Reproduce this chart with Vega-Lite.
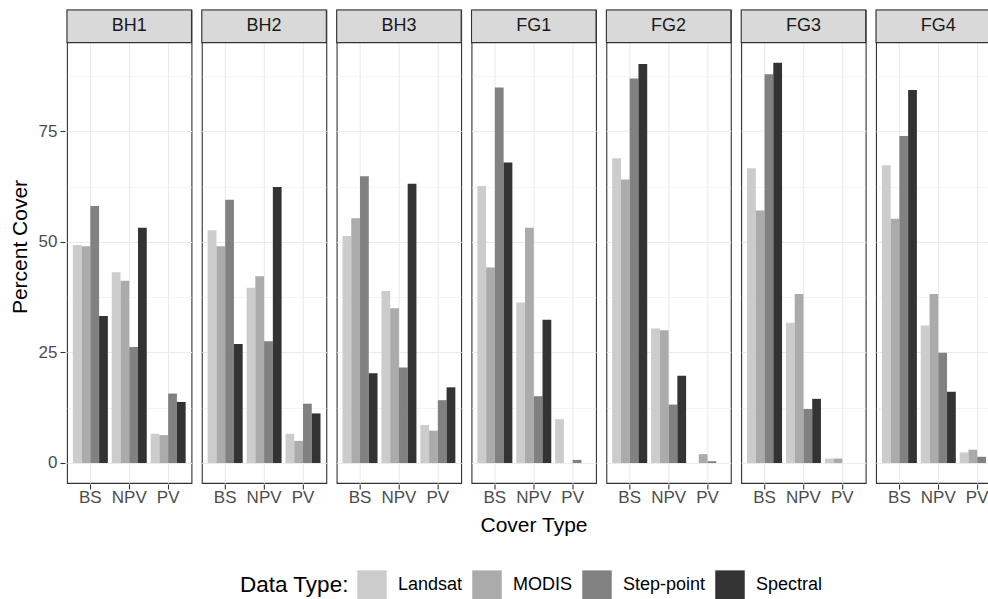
{
  "$schema": "https://vega.github.io/schema/vega-lite/v6.json",
  "padding": {"left": 9, "top": 8, "right": 0, "bottom": 0},
  "background": "white",
  "data": {"values": [
    {"Site": "BH1", "Cover": "BS", "Type": "Landsat", "Percent": 49.3},
    {"Site": "BH1", "Cover": "BS", "Type": "MODIS", "Percent": 49.0},
    {"Site": "BH1", "Cover": "BS", "Type": "Step-point", "Percent": 58.1},
    {"Site": "BH1", "Cover": "BS", "Type": "Spectral", "Percent": 33.2},
    {"Site": "BH1", "Cover": "NPV", "Type": "Landsat", "Percent": 43.1},
    {"Site": "BH1", "Cover": "NPV", "Type": "MODIS", "Percent": 41.2},
    {"Site": "BH1", "Cover": "NPV", "Type": "Step-point", "Percent": 26.2},
    {"Site": "BH1", "Cover": "NPV", "Type": "Spectral", "Percent": 53.2},
    {"Site": "BH1", "Cover": "PV", "Type": "Landsat", "Percent": 6.6},
    {"Site": "BH1", "Cover": "PV", "Type": "MODIS", "Percent": 6.3},
    {"Site": "BH1", "Cover": "PV", "Type": "Step-point", "Percent": 15.7},
    {"Site": "BH1", "Cover": "PV", "Type": "Spectral", "Percent": 13.8},
    {"Site": "BH2", "Cover": "BS", "Type": "Landsat", "Percent": 52.6},
    {"Site": "BH2", "Cover": "BS", "Type": "MODIS", "Percent": 49.0},
    {"Site": "BH2", "Cover": "BS", "Type": "Step-point", "Percent": 59.5},
    {"Site": "BH2", "Cover": "BS", "Type": "Spectral", "Percent": 26.9},
    {"Site": "BH2", "Cover": "NPV", "Type": "Landsat", "Percent": 39.6},
    {"Site": "BH2", "Cover": "NPV", "Type": "MODIS", "Percent": 42.2},
    {"Site": "BH2", "Cover": "NPV", "Type": "Step-point", "Percent": 27.5},
    {"Site": "BH2", "Cover": "NPV", "Type": "Spectral", "Percent": 62.4},
    {"Site": "BH2", "Cover": "PV", "Type": "Landsat", "Percent": 6.6},
    {"Site": "BH2", "Cover": "PV", "Type": "MODIS", "Percent": 5.0},
    {"Site": "BH2", "Cover": "PV", "Type": "Step-point", "Percent": 13.4},
    {"Site": "BH2", "Cover": "PV", "Type": "Spectral", "Percent": 11.2},
    {"Site": "BH3", "Cover": "BS", "Type": "Landsat", "Percent": 51.3},
    {"Site": "BH3", "Cover": "BS", "Type": "MODIS", "Percent": 55.3},
    {"Site": "BH3", "Cover": "BS", "Type": "Step-point", "Percent": 64.8},
    {"Site": "BH3", "Cover": "BS", "Type": "Spectral", "Percent": 20.3},
    {"Site": "BH3", "Cover": "NPV", "Type": "Landsat", "Percent": 38.9},
    {"Site": "BH3", "Cover": "NPV", "Type": "MODIS", "Percent": 35.0},
    {"Site": "BH3", "Cover": "NPV", "Type": "Step-point", "Percent": 21.6},
    {"Site": "BH3", "Cover": "NPV", "Type": "Spectral", "Percent": 63.1},
    {"Site": "BH3", "Cover": "PV", "Type": "Landsat", "Percent": 8.6},
    {"Site": "BH3", "Cover": "PV", "Type": "MODIS", "Percent": 7.3},
    {"Site": "BH3", "Cover": "PV", "Type": "Step-point", "Percent": 14.2},
    {"Site": "BH3", "Cover": "PV", "Type": "Spectral", "Percent": 17.1},
    {"Site": "FG1", "Cover": "BS", "Type": "Landsat", "Percent": 62.6},
    {"Site": "FG1", "Cover": "BS", "Type": "MODIS", "Percent": 44.2},
    {"Site": "FG1", "Cover": "BS", "Type": "Step-point", "Percent": 84.9},
    {"Site": "FG1", "Cover": "BS", "Type": "Spectral", "Percent": 67.9},
    {"Site": "FG1", "Cover": "NPV", "Type": "Landsat", "Percent": 36.3},
    {"Site": "FG1", "Cover": "NPV", "Type": "MODIS", "Percent": 53.2},
    {"Site": "FG1", "Cover": "NPV", "Type": "Step-point", "Percent": 15.1},
    {"Site": "FG1", "Cover": "NPV", "Type": "Spectral", "Percent": 32.4},
    {"Site": "FG1", "Cover": "PV", "Type": "Landsat", "Percent": 9.9},
    {"Site": "FG1", "Cover": "PV", "Type": "MODIS", "Percent": 0},
    {"Site": "FG1", "Cover": "PV", "Type": "Step-point", "Percent": 0.7},
    {"Site": "FG1", "Cover": "PV", "Type": "Spectral", "Percent": 0},
    {"Site": "FG2", "Cover": "BS", "Type": "Landsat", "Percent": 68.9},
    {"Site": "FG2", "Cover": "BS", "Type": "MODIS", "Percent": 64.1},
    {"Site": "FG2", "Cover": "BS", "Type": "Step-point", "Percent": 86.9},
    {"Site": "FG2", "Cover": "BS", "Type": "Spectral", "Percent": 90.2},
    {"Site": "FG2", "Cover": "NPV", "Type": "Landsat", "Percent": 30.4},
    {"Site": "FG2", "Cover": "NPV", "Type": "MODIS", "Percent": 30.0},
    {"Site": "FG2", "Cover": "NPV", "Type": "Step-point", "Percent": 13.2},
    {"Site": "FG2", "Cover": "NPV", "Type": "Spectral", "Percent": 19.7},
    {"Site": "FG2", "Cover": "PV", "Type": "Landsat", "Percent": 0},
    {"Site": "FG2", "Cover": "PV", "Type": "MODIS", "Percent": 2.0},
    {"Site": "FG2", "Cover": "PV", "Type": "Step-point", "Percent": 0.4},
    {"Site": "FG2", "Cover": "PV", "Type": "Spectral", "Percent": 0},
    {"Site": "FG3", "Cover": "BS", "Type": "Landsat", "Percent": 66.6},
    {"Site": "FG3", "Cover": "BS", "Type": "MODIS", "Percent": 57.1},
    {"Site": "FG3", "Cover": "BS", "Type": "Step-point", "Percent": 87.9},
    {"Site": "FG3", "Cover": "BS", "Type": "Spectral", "Percent": 90.5},
    {"Site": "FG3", "Cover": "NPV", "Type": "Landsat", "Percent": 31.7},
    {"Site": "FG3", "Cover": "NPV", "Type": "MODIS", "Percent": 38.2},
    {"Site": "FG3", "Cover": "NPV", "Type": "Step-point", "Percent": 12.2},
    {"Site": "FG3", "Cover": "NPV", "Type": "Spectral", "Percent": 14.5},
    {"Site": "FG3", "Cover": "PV", "Type": "Landsat", "Percent": 1.0},
    {"Site": "FG3", "Cover": "PV", "Type": "MODIS", "Percent": 1.0},
    {"Site": "FG3", "Cover": "PV", "Type": "Step-point", "Percent": 0},
    {"Site": "FG3", "Cover": "PV", "Type": "Spectral", "Percent": 0},
    {"Site": "FG4", "Cover": "BS", "Type": "Landsat", "Percent": 67.3},
    {"Site": "FG4", "Cover": "BS", "Type": "MODIS", "Percent": 55.2},
    {"Site": "FG4", "Cover": "BS", "Type": "Step-point", "Percent": 73.9},
    {"Site": "FG4", "Cover": "BS", "Type": "Spectral", "Percent": 84.3},
    {"Site": "FG4", "Cover": "NPV", "Type": "Landsat", "Percent": 31.1},
    {"Site": "FG4", "Cover": "NPV", "Type": "MODIS", "Percent": 38.2},
    {"Site": "FG4", "Cover": "NPV", "Type": "Step-point", "Percent": 24.9},
    {"Site": "FG4", "Cover": "NPV", "Type": "Spectral", "Percent": 16.1},
    {"Site": "FG4", "Cover": "PV", "Type": "Landsat", "Percent": 2.4},
    {"Site": "FG4", "Cover": "PV", "Type": "MODIS", "Percent": 3.0},
    {"Site": "FG4", "Cover": "PV", "Type": "Step-point", "Percent": 1.4},
    {"Site": "FG4", "Cover": "PV", "Type": "Spectral", "Percent": 0}
  ]},
  "facet": {
    "column": {
      "field": "Site", "type": "nominal",
      "sort": ["BH1", "BH2", "BH3", "FG1", "FG2", "FG3", "FG4"],
      "header": {
        "title": "Cover Type", "titleOrient": "bottom", "labels": false,
        "titleFont": "Liberation Sans", "titleFontSize": 21, "titleFontWeight": "normal",
        "titleColor": "black", "titlePadding": 0
      }
    }
  },
  "spacing": 6.84,
  "spec": {
    "width": 124.5,
    "height": 473,
    "layer": [
      {
        "mark": {"type": "bar"},
        "encoding": {
          "x": {
            "field": "Cover", "type": "nominal", "sort": ["BS", "NPV", "PV"],
            "scale": {"paddingInner": 0.1, "paddingOuter": 0.15},
            "axis": {
              "title": null, "grid": true, "bandPosition": 0.5, "gridColor": "#ebebeb", "gridWidth": 1.1,
              "domain": false, "ticks": true, "tickSize": 5, "tickColor": "#333333", "tickWidth": 1.1,
              "labelAngle": 0, "labelFontSize": 17, "labelColor": "#4d4d4d", "labelPadding": 0
            }
          },
          "xOffset": {
            "field": "Type", "type": "nominal", "sort": ["Landsat", "MODIS", "Step-point", "Spectral"],
            "scale": {"paddingInner": 0, "paddingOuter": 0}
          },
          "y": {
            "field": "Percent", "type": "quantitative",
            "scale": {"domain": [-4.525, 102.4], "nice": false},
            "axis": {
              "title": "Percent Cover",
              "values": [0, 12.5, 25, 37.5, 50, 62.5, 75, 87.5],
              "labelExpr": "datum.value % 25 === 0 ? datum.label : ''",
              "tickOpacity": {"condition": {"test": "datum.value % 25 === 0", "value": 1}, "value": 0},
              "gridWidth": {"condition": {"test": "datum.value % 25 === 0", "value": 1.1}, "value": 0.55},
              "gridColor": "#ebebeb", "domain": false, "tickColor": "#333333", "tickSize": 5, "tickWidth": 1.1,
              "labelFontSize": 17, "labelColor": "#4d4d4d", "labelPadding": 3,
              "titleFontSize": 21, "titleFontWeight": "normal", "titleColor": "black", "titlePadding": 8
            }
          },
          "color": {
            "field": "Type", "type": "nominal",
            "sort": ["Landsat", "MODIS", "Step-point", "Spectral"],
            "scale": {"domain": ["Landsat", "MODIS", "Step-point", "Spectral"], "range": ["#cccccc", "#ababab", "#818181", "#333333"]},
            "legend": {
              "title": "Data Type:", "orient": "none", "legendX": 173, "legendY": 560,
              "direction": "horizontal", "titleOrient": "left",
              "symbolType": "square", "symbolSize": 870, "symbolStrokeWidth": 0, "symbolOpacity": 1,
              "labelFontSize": 18, "labelColor": "black", "labelOffset": 11, "columnPadding": 9,
              "titleFontSize": 22.5, "titleFontWeight": "normal", "titleColor": "black", "titlePadding": 8
            }
          }
        }
      },
      {
        "transform": [{"aggregate": [{"op": "count", "as": "n"}], "groupby": ["Site"]}],
        "mark": {"type": "rect", "fill": "#d9d9d9", "stroke": "#333333", "strokeWidth": 1.1},
        "encoding": {"y": {"datum": 95.025}, "y2": {"datum": 102.4}}
      },
      {
        "transform": [{"aggregate": [{"op": "count", "as": "n"}], "groupby": ["Site"]}],
        "mark": {"type": "text", "fontSize": 18, "color": "#1a1a1a", "baseline": "middle", "align": "center"},
        "encoding": {"y": {"datum": 98.7}, "text": {"field": "Site"}}
      }
    ]
  },
  "config": {
    "font": "Liberation Sans",
    "view": {"stroke": "#333333", "strokeWidth": 1.1}
  }
}
